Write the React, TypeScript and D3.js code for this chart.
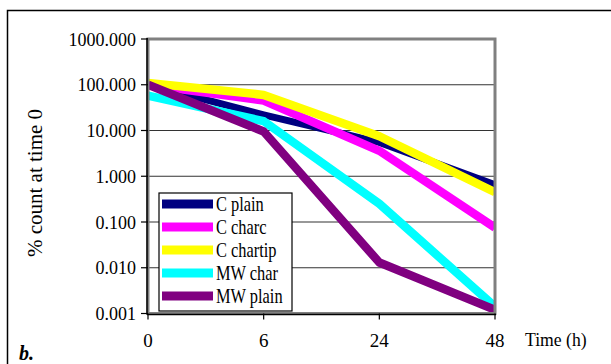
import React from "react";
import * as d3 from "d3";

const times = ["0", "6", "24", "48"];
const seriesNames = ["C plain", "C charc", "C chartip", "MW char", "MW plain"];
const cPlain = [100, 22, 5.5, 0.65];
const cCharc = [100, 45, 3.6, 0.075];
const cChartip = [110, 60, 7.5, 0.45];
const mwChar = [58, 16, 0.25, 0.0014];
const mwPlain = [100, 9.5, 0.013, 0.0012];
const seriesValues = [cPlain, cCharc, cChartip, mwChar, mwPlain];
const seriesColors = ["#000080", "#FF00FF", "#FFFF00", "#00FFFF", "#800080"];
const yTickValues = [0.001, 0.01, 0.1, 1, 10, 100, 1000];

const W = 611;
const H = 364;
const L = 148;
const R = 495;
const T = 39;
const B = 313.5;

export default function App() {
  const x = d3.scalePoint<string>().domain(times).range([L, R]);
  const y = d3.scaleLog().domain([0.001, 1000]).range([B, T]);
  const fmt = d3.format(".3f");
  const line = d3
    .line<number>()
    .x((_, i) => x(times[i]) as number)
    .y((d) => y(d));

  const font = "'Liberation Serif', 'Times New Roman', serif";
  const legX = 159;
  const legY = 193;
  const legW = 133;
  const legH = 118;
  const rowH = 23;

  return (
    <svg
      width={W}
      height={H}
      style={{ position: "absolute", left: 0, top: 0, background: "#fff" }}
      fontFamily={font}
    >
      <rect x={0} y={0} width={W} height={H} fill="#fff" />
      <rect x={7.5} y={10.5} width={W + 10} height={H + 10} fill="none" stroke="#000" strokeWidth={1.5} />
      <defs>
        <clipPath id="plotclip">
          <rect x={L} y={T} width={R - L} height={B - T} />
        </clipPath>
      </defs>
      {/* gridlines */}
      {yTickValues.map((v) => (
        <line key={"g" + v} x1={L} x2={R} y1={y(v)} y2={y(v)} stroke="#333" strokeWidth={1.2} />
      ))}
      {/* series */}
      <g clipPath="url(#plotclip)">
        {seriesValues.map((vals, i) => (
          <path
            key={seriesNames[i]}
            d={line(vals) || ""}
            fill="none"
            stroke={seriesColors[i]}
            strokeWidth={i === 0 ? 7 : 8.5}
            strokeLinejoin="round"
          />
        ))}
      </g>
      {/* plot border */}
      <rect x={L} y={T} width={R - L} height={B - T} fill="none" stroke="#808080" strokeWidth={3} />
      <line x1={L - 1} x2={L - 1} y1={T - 1} y2={B + 1} stroke="#000" strokeWidth={1.5} />
      <line x1={L - 1} x2={R + 1} y1={B + 1} y2={B + 1} stroke="#000" strokeWidth={1.5} />
      {/* y ticks */}
      {yTickValues.map((v) => (
        <g key={"t" + v}>
          <line x1={L - 7} x2={L} y1={y(v)} y2={y(v)} stroke="#000" strokeWidth={1.2} />
          <text x={136} y={y(v) + 6.5} fontSize={18} textAnchor="end" fill="#000">
            {fmt(v)}
          </text>
        </g>
      ))}
      {/* x ticks */}
      {times.map((t) => (
        <g key={"x" + t}>
          <line x1={x(t)} x2={x(t)} y1={B} y2={B + 6} stroke="#000" strokeWidth={1.2} />
          <text x={x(t)} y={346.5} fontSize={19} textAnchor="middle" fill="#000">
            {t}
          </text>
        </g>
      ))}
      <text x={525} y={346.5} fontSize={19} fill="#000" transform="translate(525,0) scale(0.93,1) translate(-525,0)">
        Time (h)
      </text>
      <text
        transform={`translate(42,183) rotate(-90)`}
        fontSize={21}
        textAnchor="middle"
        fill="#000"
      >
        % count at time 0
      </text>
      {/* legend */}
      <rect x={legX} y={legY} width={legW} height={legH} fill="#fff" stroke="#000" strokeWidth={1.2} />
      {seriesNames.map((n, i) => {
        const cy = 204 + i * rowH;
        return (
          <g key={"l" + n}>
            <line x1={162} x2={213} y1={cy} y2={cy} stroke={seriesColors[i]} strokeWidth={9} />
            <text
              x={216}
              y={cy + 7}
              fontSize={20}
              fill="#000"
              transform={`translate(216,0) scale(0.82,1) translate(-216,0)`}
            >
              {n}
            </text>
          </g>
        );
      })}
      <text x={19} y={360} fontSize={20} fontStyle="italic" fontWeight="bold" fill="#000">
        b.
      </text>
    </svg>
  );
}
